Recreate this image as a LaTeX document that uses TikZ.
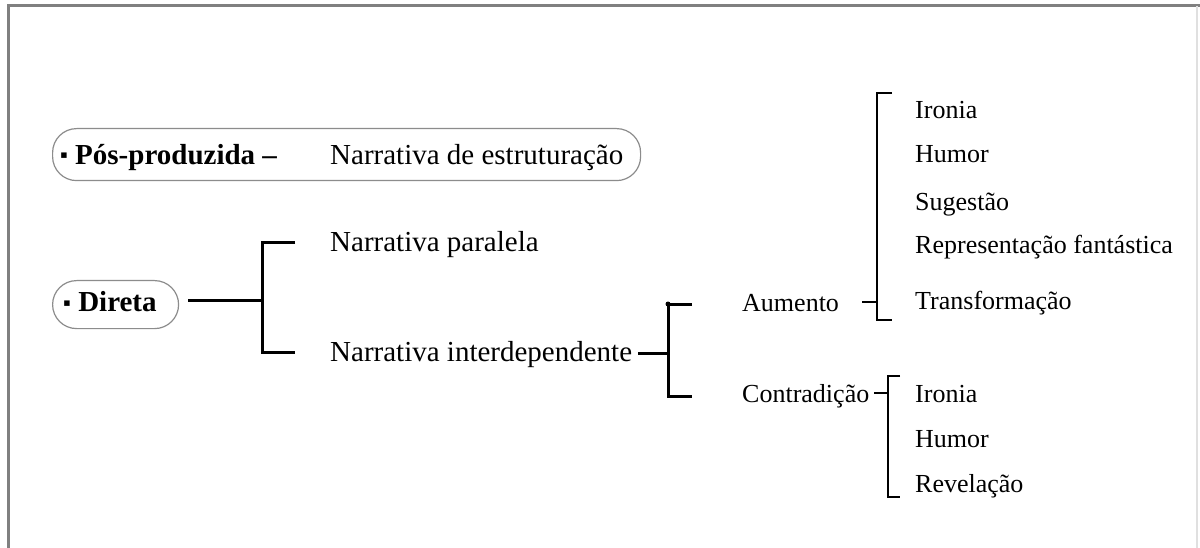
\documentclass[tikz,border=0pt]{standalone}
\usepackage{fontspec}
\setmainfont{Liberation Serif}
\newcommand{\smallbul}{\raisebox{1.5pt}{\fontsize{22}{22}\selectfont ▪}}
\begin{document}
\begin{tikzpicture}[x=1pt,y=-1pt,
  big/.style={font=\fontsize{29}{34}\selectfont, anchor=base west, inner sep=0pt},
  bigb/.style={font=\fontsize{29}{34}\selectfont\bfseries, anchor=base west, inner sep=0pt},
  small/.style={font=\fontsize{26}{31}\selectfont, anchor=base west, inner sep=0pt},
  heavy/.style={line width=3pt},
  light/.style={line width=2pt},
  pill/.style={draw=black!45, line width=1.2pt, anchor=north west, inner sep=0pt}]
\useasboundingbox (0,0) rectangle (1200,548);
\fill[white] (0,0) rectangle (1200,548);
\draw[black!50, line width=3pt] (8,548) -- (8,6) -- (1200,6);
\draw[black!12, line width=1.5pt] (1197,6) -- (1197,548);

% boxes
\node[pill, rounded corners=24pt, minimum width=588pt, minimum height=52pt] (posbox) at (52,128) {};
\node[pill, rounded corners=24pt, minimum width=126pt, minimum height=48pt] (dirbox) at (52,280) {};

% left texts
\node[bigb] (pos) at (60,164.5) {\smallbul\ Pós-produzida –};
\node[big] (estr) at (330,164.5) {Narrativa de estruturação};
\node[bigb] (dir) at (63,312) {\smallbul\ Direta};
\node[big] (par) at (330,252) {Narrativa paralela};
\node[big] (inter) at (330,361) {Narrativa interdependente};

% middle texts
\node[small] (aum) at (742,311) {Aumento};
\node[small] (contr) at (742,402) {Contradição};

% right texts
\node[small] (ir1) at (915,119) {Ironia};
\node[small] (hu1) at (915,163) {Humor};
\node[small] (sug) at (915,211) {Sugestão};
\node[small] (rep) at (915,254) {Representação fantástica};
\node[small] (tra) at (915,309) {Transformação};
\node[small] (ir2) at (915,402) {Ironia};
\node[small] (hu2) at (915,447) {Humor};
\node[small] (rev) at (915,492) {Revelação};

% connector points
\coordinate (d0) at (188,300);
\coordinate (d1) at (262,300);
\coordinate (dt) at (262,243);
\coordinate (db) at (262,352);
\coordinate (dte) at (295,243);
\coordinate (dbe) at (295,352);

\coordinate (i0) at (638,353);
\coordinate (i1) at (668,353);
\coordinate (it) at (668,304);
\coordinate (ib) at (668,396);
\coordinate (ite) at (692,304);
\coordinate (ibe) at (692,396);

\coordinate (a0) at (862,302);
\coordinate (a1) at (877,302);
\coordinate (at) at (877,93);
\coordinate (ab) at (877,320);
\coordinate (ate) at (892,93);
\coordinate (abe) at (892,320);

\coordinate (c0) at (874,393);
\coordinate (c1) at (888,393);
\coordinate (ct) at (888,376);
\coordinate (cb) at (888,497);
\coordinate (cte) at (900,376);
\coordinate (cbe) at (900,497);

\draw[heavy] (d0) -- (d1);
\draw[heavy] (dte) -- (dt) -- (db) -- (dbe);
\draw[heavy] (i0) -- (i1);
\draw[heavy] (ite) -- (it) -- (ib) -- (ibe);
\fill (it) circle (2.5pt);
\draw[light] (a0) -- (a1);
\draw[light] (ate) -- (at) -- (ab) -- (abe);
\draw[light] (c0) -- (c1);
\draw[light] (cte) -- (ct) -- (cb) -- (cbe);
\end{tikzpicture}
\end{document}
